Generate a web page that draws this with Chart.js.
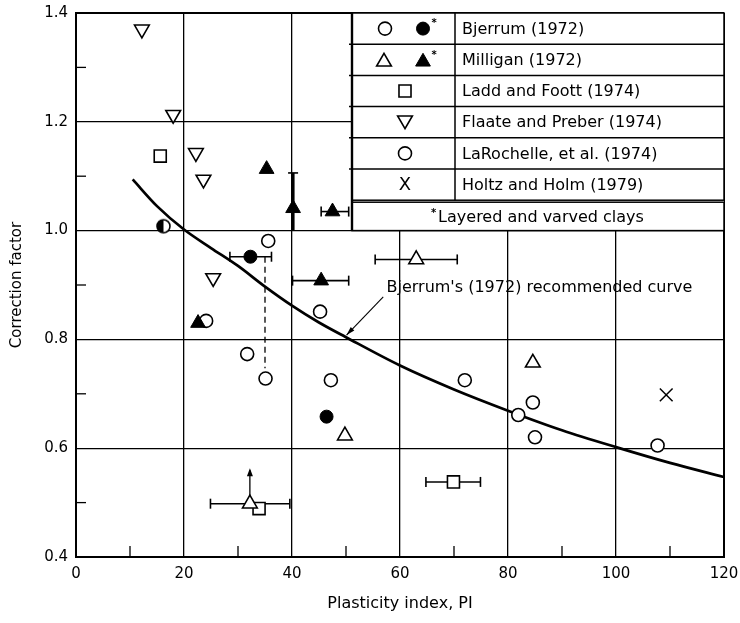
<!DOCTYPE html>
<html>
<head>
<meta charset="utf-8">
<script src="https://cdn.jsdelivr.net/npm/chart.js@4.4.1/dist/chart.umd.min.js"></script>
<style>
  html, body { margin: 0; padding: 0; background: #fff; }
  #wrap { width: 740px; height: 623px; }
</style>
</head>
<body>
<div id="wrap"><canvas id="chart" width="740" height="623"></canvas></div>
<script>
// axis ticks
const xTicks = [0, 20, 40, 60, 80, 100, 120];
const yTicks = [0.4, 0.6, 0.8, 1.0, 1.2, 1.4];
const xMinor = [10, 30, 50, 70, 90, 110];
const yMinor = [0.5, 0.7, 0.9, 1.1, 1.3];

// measured points (PI, correction factor), optional error ranges
const bjerrumOpen = [
  { x: 24.1, y: 0.834 }, { x: 35.6, y: 0.981 }, { x: 35.1, y: 0.728 },
  { x: 47.2, y: 0.725 }, { x: 31.7, y: 0.773 }
];
const bjerrumHalf = [{ x: 16.2, y: 1.008 }];
const bjerrumFilled = [
  { x: 32.3, y: 0.952, xMin: 28.5, xMax: 36.2 },
  { x: 46.4, y: 0.658 }
];
const milliganOpen = [
  { x: 63.0, y: 0.947, xMin: 55.4, xMax: 70.6 },
  { x: 49.8, y: 0.623 },
  { x: 84.6, y: 0.757 },
  { x: 32.2, y: 0.498, xMin: 24.9, xMax: 39.6, yArrow: 0.563 }
];
const milliganFilled = [
  { x: 35.3, y: 1.113 },
  { x: 40.2, y: 1.041, yMin: 1.0, yMax: 1.106 },
  { x: 47.5, y: 1.035, xMin: 45.4, xMax: 50.5 },
  { x: 45.4, y: 0.908, xMin: 40.1, xMax: 50.5 },
  { x: 22.6, y: 0.830 }
];
const laddFoott = [
  { x: 15.6, y: 1.137 },
  { x: 33.9, y: 0.489 },
  { x: 69.9, y: 0.538, xMin: 64.8, xMax: 74.9 }
];
const flaatePreber = [
  { x: 12.2, y: 1.370 }, { x: 18.0, y: 1.213 }, { x: 22.2, y: 1.143 },
  { x: 23.6, y: 1.094 }, { x: 25.4, y: 0.913 }
];
const laRochelle = [
  { x: 45.2, y: 0.851 }, { x: 72.0, y: 0.725 }, { x: 81.9, y: 0.661 },
  { x: 84.6, y: 0.684 }, { x: 85.0, y: 0.620 }, { x: 107.7, y: 0.605 }
];
const holtzHolm = [{ x: 109.3, y: 0.698 }];

// Bjerrum's recommended curve
const curveX = [10.5, 15, 20, 25, 30, 35, 40, 45, 50, 60, 70, 80, 90, 100, 110, 120];
const curveY = [1.094, 1.045, 1.002, 0.968, 0.935, 0.897, 0.862, 0.831, 0.804, 0.752, 0.708, 0.669, 0.633, 0.602, 0.573, 0.547];

// dashed link between the two Bjerrum points at PI ~35
const linkX = 35.0;
const linkY = [0.952, 0.747];

// note with arrow pointing at the curve
const noteText = "Bjerrum's (1972) recommended curve";
const notePos = { x: 57.5, y: 0.894 };
const noteArrow = { fromX: 56.9, fromY: 0.878, toX: 50.1, toY: 0.808 };

const legendRows = [
  'Bjerrum (1972)', 'Milligan (1972)', 'Ladd and Foott (1974)',
  'Flaate and Preber (1974)', 'LaRochelle, et al. (1974)', 'Holtz and Holm (1979)'
];
const legendFoot = 'Layered and varved clays';

const FONT = '"DejaVu Sans", "Liberation Sans", Arial, sans-serif';

function halfDot(r) {
  const c = document.createElement('canvas');
  const s = Math.ceil(r * 2 + 4);
  c.width = s; c.height = s;
  const g = c.getContext('2d');
  const m = s / 2;
  g.fillStyle = '#fff';
  g.beginPath(); g.arc(m, m, r, 0, Math.PI * 2); g.fill();
  g.fillStyle = '#000';
  g.beginPath(); g.arc(m, m, r, Math.PI / 2, Math.PI * 1.5); g.closePath(); g.fill();
  g.lineWidth = 1.6; g.strokeStyle = '#000';
  g.beginPath(); g.arc(m, m, r, 0, Math.PI * 2); g.stroke();
  return c;
}
const halfImg = halfDot(6.5);

const openCircle = { pointStyle: 'circle', pointRadius: 6.5, pointBackgroundColor: '#fff', pointBorderColor: '#000', pointBorderWidth: 1.6 };
const fillCircle = { pointStyle: 'circle', pointRadius: 6.5, pointBackgroundColor: '#000', pointBorderColor: '#000', pointBorderWidth: 1 };
const openTri = { pointStyle: 'triangle', pointRadius: 8.5, pointBackgroundColor: '#fff', pointBorderColor: '#000', pointBorderWidth: 1.6 };
const fillTri = { pointStyle: 'triangle', pointRadius: 8.5, pointBackgroundColor: '#000', pointBorderColor: '#000', pointBorderWidth: 1 };
const openSquare = { pointStyle: 'rect', pointRadius: 8.5, pointBackgroundColor: '#fff', pointBorderColor: '#000', pointBorderWidth: 1.6 };
const downTri = { pointStyle: 'triangle', pointRotation: 180, pointRadius: 8.5, pointBackgroundColor: '#fff', pointBorderColor: '#000', pointBorderWidth: 1.6 };
const crossMark = { pointStyle: 'crossRot', pointRadius: 9, pointBorderColor: '#000', pointBorderWidth: 1.5 };

function ds(label, data, style) {
  return Object.assign({ type: 'scatter', label, data, showLine: false }, style);
}

const datasets = [
  ds('Milligan filled', milliganFilled, fillTri),
  ds('Milligan open', milliganOpen, openTri),
  ds('Bjerrum half', bjerrumHalf, { pointStyle: halfImg, pointRadius: 6.5 }),
  ds('Bjerrum filled', bjerrumFilled, fillCircle),
  ds('Bjerrum open', bjerrumOpen, openCircle),
  ds('Ladd and Foott', laddFoott, openSquare),
  ds('Flaate and Preber', flaatePreber, downTri),
  ds('LaRochelle', laRochelle, openCircle),
  ds('Holtz and Holm', holtzHolm, crossMark),
  {
    type: 'line', label: 'Bjerrum curve',
    data: curveX.map((x, i) => ({ x, y: curveY[i] })),
    borderColor: '#000', borderWidth: 2.7, pointRadius: 0,
    cubicInterpolationMode: 'monotone', fill: false
  }
];

function line(ctx, x1, y1, x2, y2) {
  ctx.beginPath(); ctx.moveTo(x1, y1); ctx.lineTo(x2, y2); ctx.stroke();
}

const extras = {
  id: 'extras',
  beforeDatasetsDraw(chart) {
    const { ctx, scales: { x, y } } = chart;
    ctx.save();
    ctx.strokeStyle = '#000';
    ctx.fillStyle = '#000';
    // minor ticks
    ctx.lineWidth = 1.3;
    const a = chart.chartArea;
    xMinor.forEach(v => { const px = x.getPixelForValue(v); line(ctx, px, a.bottom, px, a.bottom - 11); });
    yMinor.forEach(v => { const py = y.getPixelForValue(v); line(ctx, a.left, py, a.left + 10, py); });
    // error bars and arrows
    chart.data.datasets.forEach(d => {
      d.data.forEach(p => {
        const px = x.getPixelForValue(p.x), py = y.getPixelForValue(p.y);
        if (p.xMin !== undefined) {
          ctx.lineWidth = 1.6;
          const l = x.getPixelForValue(p.xMin), r = x.getPixelForValue(p.xMax);
          line(ctx, l, py, r, py);
          line(ctx, l, py - 5, l, py + 5);
          line(ctx, r, py - 5, r, py + 5);
        }
        if (p.yMin !== undefined) {
          ctx.lineWidth = 3;
          const b = y.getPixelForValue(p.yMin), t = y.getPixelForValue(p.yMax);
          line(ctx, px, b, px, t);
          ctx.lineWidth = 1.6;
          line(ctx, px - 5, t, px + 5, t);
        }
        if (p.yArrow !== undefined) {
          ctx.lineWidth = 1.3;
          const t = y.getPixelForValue(p.yArrow);
          line(ctx, px, py, px, t + 2);
          ctx.beginPath();
          ctx.moveTo(px, t); ctx.lineTo(px - 3, t + 8); ctx.lineTo(px + 3, t + 8); ctx.closePath(); ctx.fill();
        }
      });
    });
    // dashed link
    ctx.lineWidth = 1.3;
    ctx.setLineDash([6, 4]);
    const lx = x.getPixelForValue(linkX);
    line(ctx, lx, y.getPixelForValue(linkY[0]), lx, y.getPixelForValue(linkY[1]));
    ctx.setLineDash([]);
    ctx.restore();
  },
  afterDraw(chart) {
    const { ctx, scales: { x, y } } = chart;
    const a = chart.chartArea;
    ctx.save();
    ctx.fillStyle = '#000';
    ctx.strokeStyle = '#000';

    // note and arrow
    ctx.font = '16px ' + FONT;
    ctx.textBaseline = 'middle';
    ctx.textAlign = 'left';
    ctx.fillText(noteText, x.getPixelForValue(notePos.x), y.getPixelForValue(notePos.y));
    const fx = x.getPixelForValue(noteArrow.fromX), fy = y.getPixelForValue(noteArrow.fromY);
    const tx = x.getPixelForValue(noteArrow.toX), ty = y.getPixelForValue(noteArrow.toY);
    ctx.lineWidth = 1.1;
    line(ctx, fx, fy, tx, ty);
    const ang = Math.atan2(ty - fy, tx - fx);
    ctx.beginPath();
    ctx.moveTo(tx, ty);
    ctx.lineTo(tx - 9 * Math.cos(ang - 0.28), ty - 9 * Math.sin(ang - 0.28));
    ctx.lineTo(tx - 9 * Math.cos(ang + 0.28), ty - 9 * Math.sin(ang + 0.28));
    ctx.closePath(); ctx.fill();

    // legend table
    const L = 352, R = a.right, C = 455, T = a.top;
    const rowH = 31.2;
    const B = T + rowH * legendRows.length;
    const fT = B + 2, fB = y.getPixelForValue(1.0);
    ctx.fillStyle = '#fff';
    ctx.fillRect(L, T, R - L, fB - T);
    ctx.fillStyle = '#000';
    ctx.lineWidth = 1.5;
    ctx.strokeRect(L, T, R - L, B - T);
    ctx.strokeRect(L, fT, R - L, fB - fT);
    ctx.lineWidth = 2.4;
    line(ctx, L, T, L, fB);
    ctx.lineWidth = 1.5;
    line(ctx, C, T, C, B);
    for (let i = 1; i < legendRows.length; i++) line(ctx, L - 3, T + rowH * i, R, T + rowH * i);

    ctx.font = '16px ' + FONT;
    ctx.textAlign = 'left';
    legendRows.forEach((t, i) => ctx.fillText(t, C + 7, T + rowH * (i + 0.5) + 1));

    const draw = (st, px, py) => {
      ctx.save();
      ctx.fillStyle = st.pointBackgroundColor || '#000';
      ctx.strokeStyle = '#000';
      ctx.lineWidth = st.pointBorderWidth;
      Chart.helpers.drawPoint(ctx, {
        pointStyle: st.pointStyle, radius: st.pointRadius,
        rotation: st.pointRotation || 0, borderWidth: st.pointBorderWidth
      }, px, py);
      ctx.restore();
    };
    const cy = i => T + rowH * (i + 0.5);
    draw(openCircle, 385, cy(0));
    draw(fillCircle, 423, cy(0));
    draw(openTri, 384, cy(1) + 2);
    draw(fillTri, 423, cy(1) + 2);
    draw(openSquare, 405, cy(2));
    draw(downTri, 405, cy(3) - 2);
    draw(openCircle, 405, cy(4));
    ctx.font = '18px ' + FONT;
    ctx.textAlign = 'center';
    ctx.fillText('X', 405, cy(5) + 1);
    ctx.font = 'bold 10px ' + FONT;
    ctx.fillText('*', 434, cy(0) - 5);
    ctx.fillText('*', 434, cy(1) - 4);

    ctx.font = '16px ' + FONT;
    const footY = (fT + fB) / 2 + 1;
    const fw = ctx.measureText(legendFoot).width;
    const fx0 = (L + R) / 2 - fw / 2 + 3;
    ctx.textAlign = 'left';
    ctx.fillText(legendFoot, fx0, footY);
    ctx.font = 'bold 10px ' + FONT;
    ctx.fillText('*', fx0 - 7, footY - 4);

    // axis titles
    ctx.textAlign = 'center';
    ctx.font = '16px ' + FONT;
    ctx.fillText('Plasticity index, PI', (a.left + a.right) / 2, 604);
    ctx.font = '15px ' + FONT;
    ctx.translate(17, (a.top + a.bottom) / 2);
    ctx.rotate(-Math.PI / 2);
    ctx.fillText('Correction factor', 0, 0);
    ctx.restore();
  }
};

new Chart(document.getElementById('chart'), {
  type: 'scatter',
  data: { datasets },
  options: {
    responsive: false,
    animation: false,
    devicePixelRatio: 1,
    layout: { padding: { top: 13, right: 16, left: 0, bottom: 0 } },
    plugins: { legend: { display: false }, tooltip: { enabled: false } },
    scales: {
      x: {
        type: 'linear', min: 0, max: 120,
        afterBuildTicks: s => { s.ticks = xTicks.map(v => ({ value: v })); },
        afterFit: s => { s.height = 66; s.paddingLeft = 0; s.paddingRight = 0; },
        ticks: { color: '#000', font: { family: FONT, size: 15 }, padding: 8, maxRotation: 0 },
        grid: {
          color: '#000', drawTicks: false,
          lineWidth: c => (c.tick && (c.tick.value === 0 || c.tick.value === 120)) ? 2 : 1.3
        },
        border: { display: true, color: '#000', width: 2 }
      },
      y: {
        type: 'linear', min: 0.4, max: 1.4,
        afterBuildTicks: s => { s.ticks = yTicks.map(v => ({ value: v })); },
        afterFit: s => { s.width = 76; s.paddingTop = 0; s.paddingBottom = 0; },
        ticks: { color: '#000', font: { family: FONT, size: 15 }, padding: 8, callback: v => Number(v).toFixed(1) },
        grid: {
          color: '#000', drawTicks: false,
          lineWidth: c => (c.tick && (c.tick.value === 0.4 || c.tick.value === 1.4)) ? 2 : 1.3
        },
        border: { display: true, color: '#000', width: 2 }
      }
    }
  },
  plugins: [extras]
});
</script>
</body>
</html>
